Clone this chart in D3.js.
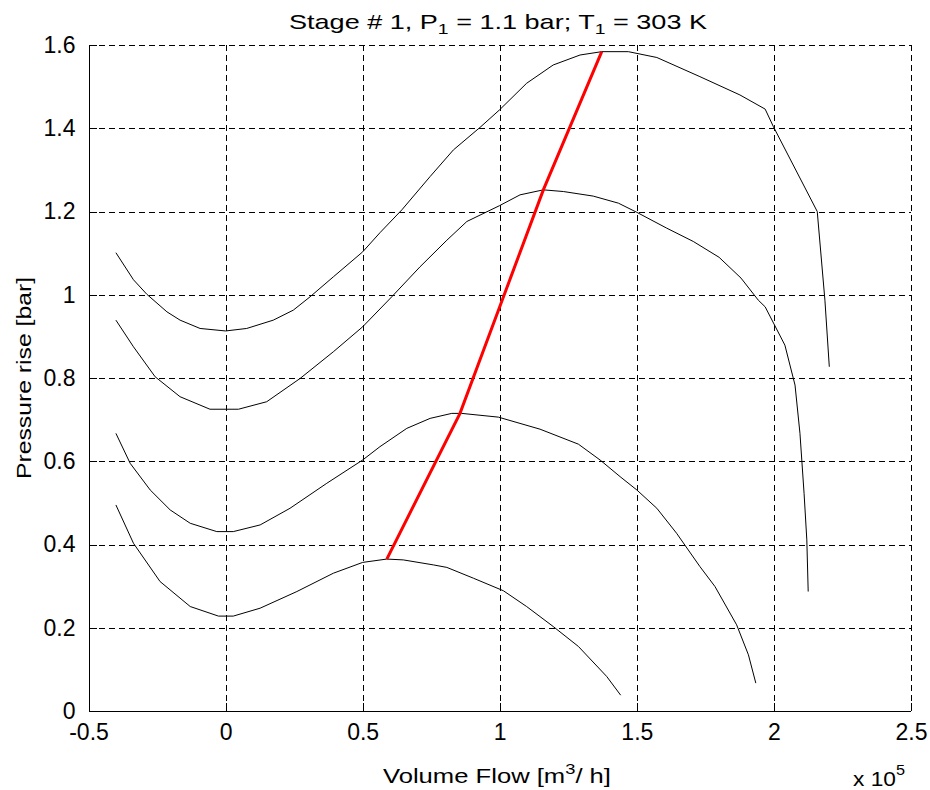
<!DOCTYPE html>
<html>
  <head>
    <meta charset='utf-8'>
    <title>Stage 1 pressure rise</title>
    <script src='https://d3js.org/d3.v7.min.js'></script>
    <style>
      body { margin: 0; background: #fff; }
      svg { display: block; font-family: 'Liberation Sans', Arial, sans-serif; }
      .grid line { stroke: #000; stroke-width: 1; stroke-dasharray: 6,4; shape-rendering: crispEdges; }
      .axis path, .axis line { stroke: #000; shape-rendering: crispEdges; }
      .axis text { font-size: 23px; fill: #000; }
      .curve { fill: none; stroke: #000; stroke-width: 1; }
      .peak-line { fill: none; stroke: #ff0000; stroke-width: 3; }
      .lbl { font-size: 21px; fill: #000; }
    </style>
  </head>
  <body>
  <script type='text/javascript'>

    // axis ticks (flow in units of 1e5 m3/h, pressure in bar)
    var xTicks = [-0.5, 0, 0.5, 1, 1.5, 2, 2.5];
    var yTicks = [0, 0.2, 0.4, 0.6, 0.8, 1, 1.2, 1.4, 1.6];

    // characteristic curves, [flow, pressure rise]
    var curve1 = [[-0.40,1.101],[-0.336,1.036],[-0.287,1.001],[-0.214,0.959],[-0.166,0.939],[-0.093,0.919],
      [0,0.913],[0.077,0.919],[0.174,0.939],[0.247,0.963],[0.308,0.995],[0.393,1.043],[0.50,1.103],
      [0.563,1.149],[0.643,1.204],[0.746,1.284],[0.831,1.348],[0.928,1.402],[0.999,1.444],[1.098,1.508],
      [1.195,1.552],[1.293,1.576],[1.372,1.584],[1.469,1.584],[1.573,1.570],[1.730,1.524],[1.876,1.480],
      [1.968,1.446],[1.998,1.404],[2.158,1.200],[2.186,0.987],[2.202,0.827]];

    var curve2 = [[-0.40,0.939],[-0.336,0.875],[-0.257,0.803],[-0.166,0.755],[-0.057,0.725],[0.047,0.725],
      [0.150,0.743],[0.272,0.799],[0.393,0.863],[0.50,0.923],[0.606,0.995],[0.709,1.067],[0.807,1.131],
      [0.880,1.176],[0.999,1.214],[1.074,1.240],[1.159,1.252],[1.232,1.248],[1.341,1.237],[1.433,1.220],
      [1.50,1.198],[1.609,1.160],[1.706,1.128],[1.80,1.090],[1.88,1.040],[1.943,0.987],[1.968,0.971],
      [2.040,0.879],[2.077,0.783],[2.095,0.667],[2.110,0.523],[2.120,0.411],[2.125,0.287]];

    var curve3 = [[-0.40,0.667],[-0.348,0.595],[-0.275,0.531],[-0.202,0.483],[-0.129,0.451],[-0.032,0.431],
      [0.028,0.431],[0.126,0.447],[0.235,0.487],[0.369,0.547],[0.50,0.603],[0.563,0.635],[0.661,0.679],
      [0.746,0.703],[0.825,0.715],[0.861,0.715],[0.995,0.706],[1.147,0.677],[1.287,0.641],[1.366,0.603],
      [1.439,0.563],[1.50,0.531],[1.573,0.487],[1.645,0.427],[1.730,0.347],[1.785,0.299],[1.864,0.207],
      [1.907,0.135],[1.934,0.067]];

    var curve4 = [[-0.40,0.495],[-0.336,0.403],[-0.239,0.311],[-0.129,0.251],[-0.026,0.228],[0.028,0.228],
      [0.126,0.247],[0.260,0.287],[0.393,0.331],[0.50,0.357],[0.588,0.365],[0.648,0.363],[0.758,0.351],
      [0.807,0.345],[0.904,0.319],[1.013,0.289],[1.098,0.251],[1.195,0.203],[1.287,0.155],[1.390,0.083],
      [1.441,0.038]];

    // line through the curve maxima
    var peakLine = [[1.372,1.584],[1.159,1.252],[0.855,0.715],[0.588,0.365]];

    var width = 930, height = 790;
    var margin = {top: 45, right: 19, bottom: 79, left: 88.5};

    var x = d3.scaleLinear().domain([-0.5, 2.5]).range([margin.left, width - margin.right]);
    var y = d3.scaleLinear().domain([0, 1.6]).range([height - margin.bottom, margin.top]);

    var svg = d3.select('body')
              .append('svg')
              .attr('width', width)
              .attr('height', height);

    // grid
    var grid = svg.append('g').attr('class', 'grid');
    grid.selectAll('.gx')
      .data(xTicks.slice(1))
      .enter().append('line')
      .attr('x1', function(d) { return Math.round(x(d)) + 0.5; })
      .attr('x2', function(d) { return Math.round(x(d)) + 0.5; })
      .attr('y1', y(0))
      .attr('y2', y(1.6));
    grid.selectAll('.gy')
      .data(yTicks.slice(1))
      .enter().append('line')
      .attr('x1', x(-0.5))
      .attr('x2', x(2.5))
      .attr('y1', function(d) { return Math.round(y(d)) + 0.5; })
      .attr('y2', function(d) { return Math.round(y(d)) + 0.5; });

    // axes
    var fmt = function(d) { return String(d); };

    svg.append('g')
      .attr('class', 'axis axis--x')
      .attr('transform', 'translate(0,' + y(0) + ')')
      .call(d3.axisBottom(x).tickValues(xTicks).tickSize(-8).tickPadding(13).tickFormat(fmt))
      .call(function(g) { g.selectAll('text').attr('dy', '0.71em'); });

    svg.append('g')
      .attr('class', 'axis axis--y')
      .attr('transform', 'translate(' + x(-0.5) + ',0)')
      .call(d3.axisLeft(y).tickValues(yTicks).tickSize(-8).tickPadding(13).tickFormat(fmt));

    svg.selectAll('.axis path').attr('d', function() {
      return d3.select(this.parentNode).classed('axis--x')
        ? 'M' + x(-0.5) + ',0.5H' + x(2.5)
        : 'M0.5,' + y(0) + 'V' + y(1.6);
    });

    // curves
    var line = d3.line()
              .x(function(d) { return x(d[0]); })
              .y(function(d) { return y(d[1]); });

    svg.selectAll('.curve')
      .data([curve1, curve2, curve3, curve4])
      .enter().append('path')
      .attr('class', 'curve')
      .attr('d', line);

    svg.append('path')
      .datum(peakLine)
      .attr('class', 'peak-line')
      .attr('d', line);

    // title
    var title = svg.append('text')
      .attr('class', 'lbl')
      .attr('x', 498)
      .attr('y', 29)
      .attr('text-anchor', 'middle')
      .attr('textLength', 418)
      .attr('lengthAdjust', 'spacingAndGlyphs');
    title.append('tspan').text('Stage # 1, P');
    title.append('tspan').attr('dy', 5).style('font-size', '15px').text('1');
    title.append('tspan').attr('dy', -5).text('  =  1.1 bar; T');
    title.append('tspan').attr('dy', 5).style('font-size', '15px').text('1');
    title.append('tspan').attr('dy', -5).text('  =  303 K');

    // x label
    var xl = svg.append('text')
      .attr('class', 'lbl')
      .attr('x', 497)
      .attr('y', 783)
      .attr('text-anchor', 'middle')
      .attr('textLength', 228)
      .attr('lengthAdjust', 'spacingAndGlyphs');
    xl.append('tspan').text('Volume Flow [m');
    xl.append('tspan').attr('dy', -9).style('font-size', '15px').text('3');
    xl.append('tspan').attr('dy', 9).text('/ h]');

    var ex = svg.append('text')
      .attr('class', 'lbl')
      .attr('x', 853)
      .attr('y', 786)
      .attr('textLength', 52)
      .attr('lengthAdjust', 'spacingAndGlyphs');
    ex.append('tspan').text('x 10');
    ex.append('tspan').attr('dy', -11).style('font-size', '15px').text('5');

    // y label
    svg.append('text')
      .attr('class', 'lbl')
      .attr('transform', 'translate(31,' + y(0.8) + ') rotate(-90)')
      .attr('text-anchor', 'middle')
      .attr('textLength', 202)
      .attr('lengthAdjust', 'spacingAndGlyphs')
      .text('Pressure rise [bar]');

  </script>
  </body>
</html>
